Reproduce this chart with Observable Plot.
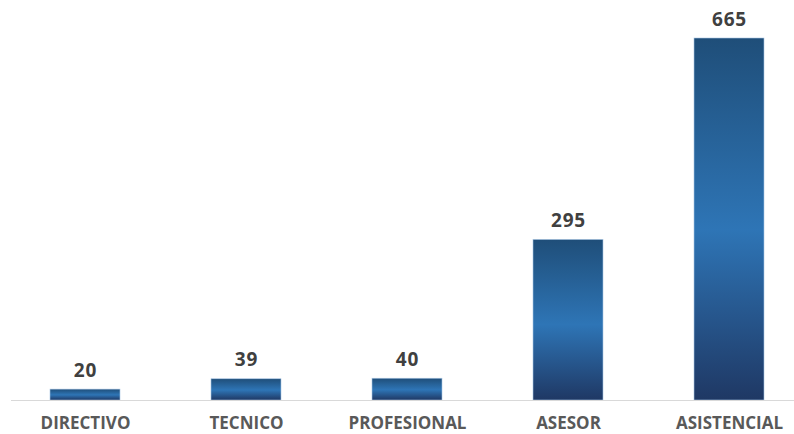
<!DOCTYPE html>
<html>
<head>
<meta charset="utf-8">
<script src="https://cdn.jsdelivr.net/npm/d3@7"></script>
<script src="https://cdn.jsdelivr.net/npm/@observablehq/plot@0.6"></script>
<style>
  html, body { margin: 0; padding: 0; background: #fff; }
  #chart svg { display: block; }
  .vals text { letter-spacing: 0.8px; }
</style>
</head>
<body>
<div id="chart"></div>
<script>
const categories = ["DIRECTIVO", "TECNICO", "PROFESIONAL", "ASESOR", "ASISTENCIAL"];
const values = [20, 39, 40, 295, 665];

const data = categories.map((c, i) => ({ cat: c, value: values[i] }));

const chart = Plot.plot({
  width: 794,
  height: 434,
  marginTop: 38,
  marginBottom: 34,
  marginLeft: 11,
  marginRight: 0,
  style: { fontFamily: "'Open Sans', sans-serif", background: "#fff", overflow: "visible" },
  x: { domain: categories, range: [4.5, 809.5], paddingInner: 0.565, paddingOuter: 0.2825, label: null },
  y: { domain: [0, 665], axis: null },
  marks: [
    Plot.barY(data, { x: "cat", y: "value", fill: "url(#barGrad)", stroke: "#a9c6e4", strokeWidth: 0.6 }),
    Plot.ruleY([0], { stroke: "#d9d9d9", strokeWidth: 1.2 }),
    Plot.text(data, { x: "cat", y: "value", text: d => String(d.value), dy: -19, fontSize: 19, fontWeight: "bold", fill: "#404040", className: "vals" }),
    Plot.axisX({ tickSize: 0, tickPadding: 16, fontSize: 17, fontWeight: "bold", color: "#595959", label: null })
  ]
});

const ns = "http://www.w3.org/2000/svg";
const defs = document.createElementNS(ns, "defs");
const grad = document.createElementNS(ns, "linearGradient");
grad.setAttribute("id", "barGrad");
grad.setAttribute("x1", "0"); grad.setAttribute("y1", "0");
grad.setAttribute("x2", "0"); grad.setAttribute("y2", "1");
[["0", "#1f4e79"], ["0.53", "#2e75b6"], ["1", "#1f3864"]].forEach(([o, c]) => {
  const s = document.createElementNS(ns, "stop");
  s.setAttribute("offset", o);
  s.setAttribute("stop-color", c);
  grad.appendChild(s);
});
defs.appendChild(grad);
chart.insertBefore(defs, chart.firstChild);

document.getElementById("chart").appendChild(chart);
</script>
</body>
</html>
